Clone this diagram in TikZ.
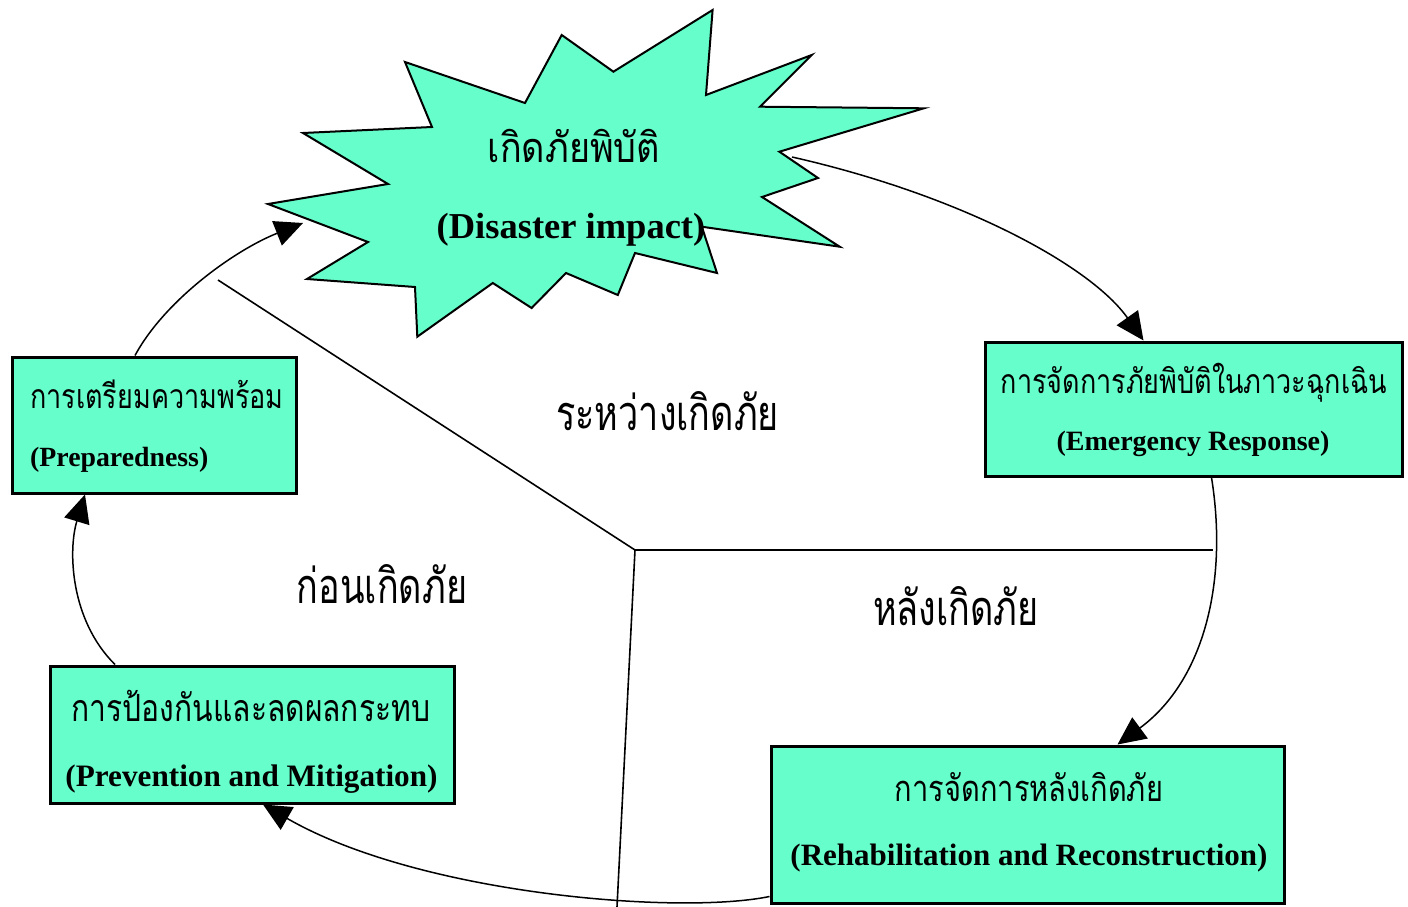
\documentclass[tikz,border=0pt]{standalone}
\usepackage{fontspec}
\usepackage{graphicx}
\setmainfont{Liberation Serif}
\newfontfamily\thai[Script=Thai]{Loma}
\usetikzlibrary{arrows.meta}
\definecolor{aqua}{RGB}{102,255,204}
\newcommand\tallthai[2]{\scalebox{1}[#1]{#2}}
\begin{document}
\begin{tikzpicture}[x=1pt,y=-1pt,
  box/.style={draw=black, line width=3pt, fill=aqua, inner sep=0pt},
  burststyle/.style={draw=black, line width=2pt, fill=aqua, line join=miter},
  conn/.style={line width=1.5pt, -{Triangle[length=28pt,width=26pt]}},
  divider/.style={line width=1.6pt},
  th/.style={font=\thai\fontsize{#1}{#1}\selectfont, inner sep=0pt, anchor=base},
  en/.style={font=\bfseries\fontsize{#1}{#1}\selectfont, inner sep=0pt, anchor=base},
]
\useasboundingbox[fill=white] (0,0) rectangle (1408,907);

% dividers
\coordinate (hub) at (635,550);
\coordinate (divNW) at (218,280);
\coordinate (divE) at (1213,550);
\coordinate (divS) at (617,907);
\draw[divider] (hub) -- (divNW);
\draw[divider] (hub) -- (divE);
\draw[divider] (hub) -- (divS);

% starburst
\draw[burststyle] (712.6,10) -- (706,95) -- (811.7,55) -- (760,106.7) -- (923.8,108.3)
  -- (779.4,151.7) -- (818,178) -- (762,197) -- (839.7,246.7) -- (701.8,226.7)
  -- (717,273) -- (635,253) -- (617.8,295) -- (566,273) -- (531.6,308)
  -- (492.8,283) -- (417.3,336.7) -- (415,287) -- (307,279) -- (368,242)
  -- (268,204) -- (388,184) -- (303,133) -- (432,127) -- (405,62)
  -- (525,103) -- (561.7,35) -- (613.4,71.7) -- cycle;
\node (burst) at (572,188) {};
\coordinate (burstE) at (792,157);
\coordinate (burstW) at (303,223);
\node[th=36] (burstTh) at (574,162) {\tallthai{1.15}{เกิดภัยพิบัติ}};
\node[en=36.5] (burstEn) at (571,238) {(Disaster impact)};

% boxes
\node[box, minimum width=284pt, minimum height=136pt] (prep) at (154,425) {};
\node[box, minimum width=417pt, minimum height=134pt] (emer) at (1193.5,409) {};
\node[box, minimum width=404pt, minimum height=137pt] (prev) at (252,734.5) {};
\node[box, minimum width=513pt, minimum height=157pt] (rehab) at (1027.5,824.5) {};

\node[th=27, anchor=base west] (prepTh) at (30,408) {\tallthai{1.25}{การเตรียมความพร้อม}};
\node[en=27.8, anchor=base west] (prepEn) at (30,466.5) {(Preparedness)};
\node[th=27] (emerTh) at (1194,393) {\tallthai{1.25}{การจัดการภัยพิบัติในภาวะฉุกเฉิน}};
\node[en=28] (emerEn) at (1193,450) {(Emergency Response)};
\node[th=30] (prevTh) at (251,721.5) {\tallthai{1.25}{การป้องกันและลดผลกระทบ}};
\node[en=31.2] (prevEn) at (251.5,786) {(Prevention and Mitigation)};
\node[th=29] (rehabTh) at (1029,801) {\tallthai{1.25}{การจัดการหลังเกิดภัย}};
\node[en=31] (rehabEn) at (1029,865) {(Rehabilitation and Reconstruction)};

% region labels
\node[th=36] (during) at (667.5,430) {\tallthai{1.35}{ระหว่างเกิดภัย}};
\node[th=36] (before) at (382,603) {\tallthai{1.35}{ก่อนเกิดภัย}};
\node[th=36] (after) at (956,625) {\tallthai{1.35}{หลังเกิดภัย}};

% connectors
\draw[conn] (burstE) .. controls (960,195) and (1090,265) .. ([xshift=-50pt]emer.north);
\draw[conn] ([xshift=18pt]emer.south) .. controls (1228,580) and (1205,680) .. ([xshift=90pt]rehab.north);
\draw[conn] ([yshift=-72pt]rehab.west) .. controls (680,915) and (420,895) .. ([xshift=11pt]prev.south);
\draw[conn] ([xshift=-137pt]prev.north) .. controls (70,620) and (68,550) .. ([xshift=-69pt]prep.south);
\draw[conn] ([xshift=-19pt]prep.north) .. controls (165,300) and (235,250) .. (burstW);
\end{tikzpicture}
\end{document}
